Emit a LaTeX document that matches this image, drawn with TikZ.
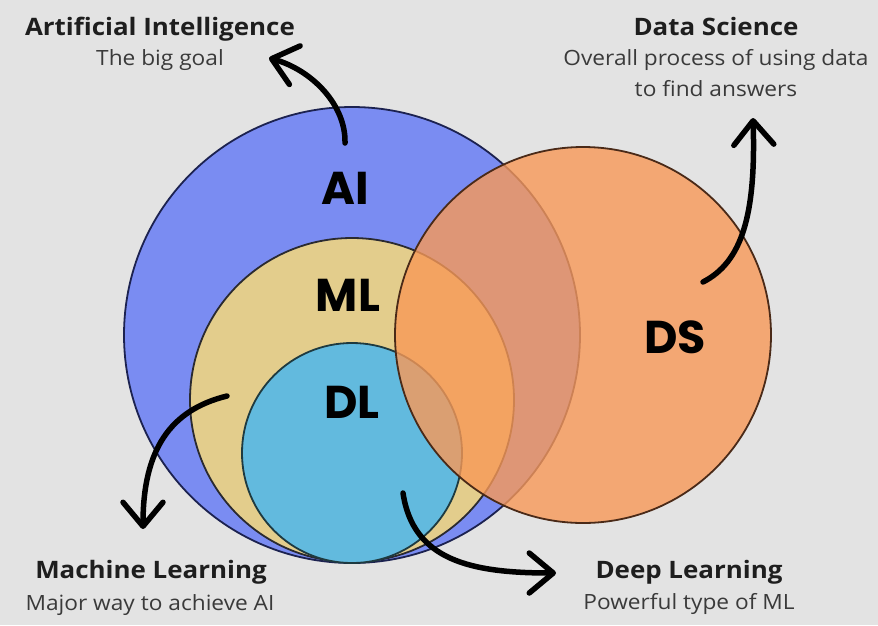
\documentclass[tikz,border=0pt]{standalone}
\usepackage{fontspec}
\setmainfont{Open Sans}[FakeStretch=1.08]
\newfontfamily\bigfont{Poppins}
\usetikzlibrary{arrows.meta}
\definecolor{bgc}{HTML}{E3E3E3}
\definecolor{aiblue}{HTML}{7A8CF2}
\definecolor{aiedge}{HTML}{1C2250}
\definecolor{mlyel}{HTML}{E3CD8C}
\definecolor{mledge}{HTML}{2A2A30}
\definecolor{dlblue}{HTML}{62BADE}
\definecolor{dledge}{HTML}{1E3A40}
\definecolor{dsor}{HTML}{F89957}
\definecolor{dsedge}{HTML}{4A2A18}
\definecolor{ttl}{HTML}{1E1E1E}
\definecolor{sub}{HTML}{3A3A3A}
\tikzset{
  venn/.style={circle, inner sep=0pt, line width=1.8pt},
  biglabel/.style={anchor=base, font=\bigfont\bfseries\fontsize{46}{50}\selectfont, text=black},
  ttlbox/.style={anchor=base, font=\bfseries\fontsize{24}{28}\selectfont, text=ttl},
  subbox/.style={anchor=base, font=\fontsize{21}{25}\selectfont, text=sub},
  arr/.style={line width=5.5pt, line cap=round, black,
    -{Straight Barb[length=24pt,width=40pt,line width=5.5pt,round]}}
}
\begin{document}
\begin{tikzpicture}[x=1pt,y=-1pt]
\fill[bgc] (0,0) rectangle (878,625);
\useasboundingbox (0,0) rectangle (878,625);

% circles
\node[venn, fill=aiblue, draw=aiedge, minimum size=456pt] (ai) at (352,335) {};
\node[venn, fill=mlyel, draw=mledge, minimum size=324pt] (ml) at (352,400) {};
\node[venn, fill=dlblue, draw=dledge, minimum size=220pt] (dl) at (352,453) {};
\node[venn, fill=dsor, fill opacity=0.8, draw=dsedge, minimum size=376pt] (ds) at (583,335) {};

% big labels
\node[biglabel] (lai) at (345,204) {AI};
\node[biglabel] (lml) at (348,311) {ML};
\node[biglabel] (ldl) at (352,418) {DL};
\node[biglabel] (lds) at (675,353) {DS};

% titles
\node[ttlbox] (tai) at (160,35) {Artificial Intelligence};
\node[subbox] (sai) at (160,65) {The big goal};
\node[ttlbox] (tds) at (716,35) {Data Science};
\node[subbox] (sds1) at (716,65) {Overall process of using data};
\node[subbox] (sds2) at (716,96) {to find answers};
\node[ttlbox] (tml) at (151,578) {Machine Learning};
\node[subbox] (sml) at (150,610) {Major way to achieve AI};
\node[ttlbox] (tdl) at (689,578) {Deep Learning};
\node[subbox] (sdl) at (689,609) {Powerful type of ML};

% arrows
\coordinate (aiS) at (345,143);
\coordinate (aiT) at (269,58);
\coordinate (dsS) at (703,282);
\coordinate (dsT) at (753,118);
\coordinate (mlS) at (227,396);
\coordinate (mlT) at (143,529);
\coordinate (dlS) at (403,493);
\coordinate (dlT) at (556,573);
\draw[arr] (aiS) .. controls (346,105) and (312,70) .. (aiT);
\draw[arr] (dsS) .. controls (742,262) and (756,215) .. (dsT);
\draw[arr] (mlS) .. controls (170,410) and (143,450) .. (mlT);
\draw[arr] (dlS) .. controls (413,560) and (470,573) .. (dlT);
\end{tikzpicture}
\end{document}
